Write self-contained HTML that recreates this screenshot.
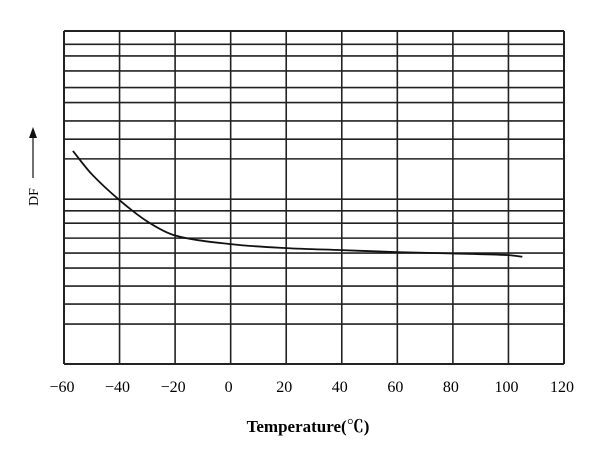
<!DOCTYPE html>
<html><head><meta charset="utf-8"><style>
body{margin:0;background:#fff;}
svg{display:block;font-family:"Liberation Serif","Noto Serif CJK SC",serif;}
</style></head><body>
<svg width="600" height="459" viewBox="0 0 600 459" id="chart">
<g id="grid"></g>
<g id="xticks"></g>
<path id="curve" fill="none" stroke="#111" stroke-width="1.8"/>
<text x="308" y="432" text-anchor="middle" font-weight="bold" font-size="17">Temperature(℃)</text>
<g>
<text x="0" y="0" transform="translate(38,206) rotate(-90)" font-size="14">DF</text>
<line x1="33" y1="178" x2="33" y2="137" stroke="#111" stroke-width="1.2"/>
<polygon points="33,127 29,138 37,138" fill="#111"/>
</g>
</svg>
<script>
const xTicks=[-60,-40,-20,0,20,40,60,80,100,120];
const gridY=[100,96,92.5,88,83,78.5,73,67.5,61.6,49.5,46,42.3,37.8,33.3,28.8,23.4,18,12,0];
const temps=[-56.8,-50,-40,-30,-20,0,20,40,60,80,100,105];
const dfVals=[64,57,49.2,42.8,38.6,36,34.8,34.2,33.6,33.2,32.7,32.2];
const X0=64,X1=564,Y0=364,Y1=31;
const xs=v=>X0+(v+60)/180*(X1-X0);
const ys=v=>Y0-v/100*(Y0-Y1);
const ns="http://www.w3.org/2000/svg";
const grid=document.getElementById('grid'),xt=document.getElementById('xticks');
xTicks.forEach(t=>{
  const l=document.createElementNS(ns,'line');
  
  
  l.setAttribute('x1',xs(t));l.setAttribute('x2',xs(t));l.setAttribute('y1',Y1);l.setAttribute('y2',Y0);
  l.setAttribute('stroke','#222');l.setAttribute('stroke-width',t===-60||t===120?2:1.6);
  grid.appendChild(l);
  const tx=document.createElementNS(ns,'text');
  
  
  tx.setAttribute('x',xs(t)-2);tx.setAttribute('y',392);tx.setAttribute('text-anchor','middle');tx.setAttribute('font-size','16');
  tx.textContent=t<0?'\u2212'+(-t):String(t);
  xt.appendChild(tx);
});
gridY.forEach(v=>{
  const l=document.createElementNS(ns,'line');
  
  
  l.setAttribute('x1',X0);l.setAttribute('x2',X1);l.setAttribute('y1',ys(v));l.setAttribute('y2',ys(v));
  l.setAttribute('stroke','#222');l.setAttribute('stroke-width',v===0||v===100?2:1.6);
  grid.appendChild(l);
});
const pts=temps.map((t,i)=>[xs(t),ys(dfVals[i])]);
let d='M'+pts[0][0]+','+pts[0][1];
for(let i=1;i<pts.length;i++){
  const p0=pts[i-2]||pts[i-1],p1=pts[i-1],p2=pts[i],p3=pts[i+1]||p2;
  const h=p2[0]-p1[0];
  const m1=(p2[1]-p0[1])/(p2[0]-p0[0]||1), m2=(p3[1]-p1[1])/(p3[0]-p1[0]||1);
  d+=' C'+(p1[0]+h/3)+','+(p1[1]+m1*h/3)+' '+(p2[0]-h/3)+','+(p2[1]-m2*h/3)+' '+p2[0]+','+p2[1];
}
document.getElementById('curve').setAttribute('d',d);
</script>
</body></html>
